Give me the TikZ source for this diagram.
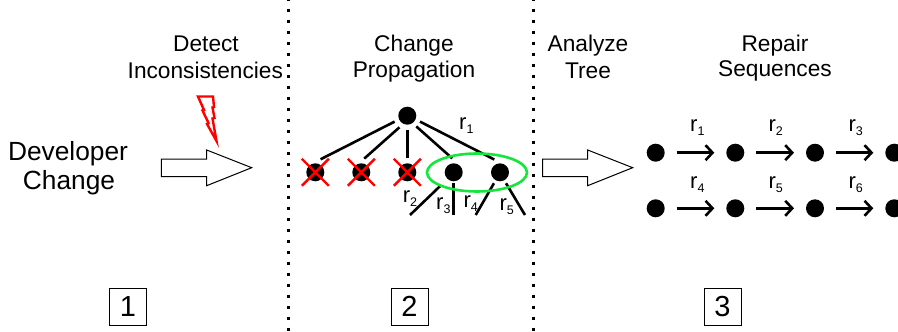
\documentclass[tikz,border=0pt]{standalone}
\usepackage{fontspec}
\setmainfont{Liberation Sans}
\usetikzlibrary{arrows.meta,calc,shapes.geometric}
\definecolor{glow}{RGB}{20,230,60}
\newcommand\rlab[1]{r\raisebox{-4pt}{\fontsize{12.5}{13}\selectfont #1}}
\tikzset{
  dot/.style={circle,fill=black,inner sep=0pt,minimum size=18pt,outer sep=5pt},
  edge/.style={line width=2.6pt,black},
  seq/.style={line width=2.6pt,black,yshift=0.8pt,-{Straight Barb[length=7pt,width=15pt,line width=2.6pt]},shorten <=7pt,shorten >=7pt},
  xmark/.style={red,line width=2.4pt},
  sep/.style={line width=3pt,dash pattern=on 3pt off 8pt,black},
  fat/.style={draw=black,line width=1pt,fill=white,line join=miter},
  ttl/.style={font=\fontsize{22.7}{24}\selectfont,anchor=base,inner sep=0pt},
  big/.style={font=\fontsize{26.3}{30}\selectfont,anchor=base,inner sep=0pt},
  rl/.style={font=\fontsize{22}{24}\selectfont,anchor=base west,inner sep=0pt},
  numbox/.style={draw=black,line width=1pt,minimum size=37pt,inner sep=0pt,font=\fontsize{29}{30}\selectfont}
}
\begin{document}
\begin{tikzpicture}[x=1pt,y=-1pt]
\useasboundingbox (0,0) rectangle (898,332);
\clip (0,0) rectangle (898,332);
% separators
\coordinate (s1a) at (288,-2.5); \coordinate (s1b) at (288,335);
\coordinate (s2a) at (533,-2.5); \coordinate (s2b) at (533,335);
\draw[sep] (s1a) -- (s1b);
\draw[sep] (s2a) -- (s2b);
% texts
\node[big] (dev) at (68,160) {Developer};
\node[big] (chg) at (69,189.3) {Change};
\node[ttl] (t1a) at (206,52) {Detect};
\node[ttl] (t1b) at (205.3,78) {Inconsistencies};
\node[ttl] (t2a) at (414,51) {Change};
\node[ttl] (t2b) at (414,77.5) {Propagation};
\node[ttl] (t3a) at (588,51) {Analyze};
\node[ttl] (t3b) at (588,78) {Tree};
\node[ttl] (t4a) at (775,51) {Repair};
\node[ttl] (t4b) at (775,76) {Sequences};
% block arrows
\draw[fat] (161.3,159) -- (206.7,159) -- (206.7,150) -- (251.7,167.7) -- (206.7,185.7) -- (206.7,176.7) -- (161.3,176.7) -- cycle;
\draw[fat] (542.7,159) -- (587.7,159) -- (587.7,150) -- (632.7,167.7) -- (587.7,185.7) -- (587.7,176.7) -- (542.7,176.7) -- cycle;
% lightning
\draw[red,line width=2.4pt,line join=miter,fill=white] (198,96.5) -- (213,96.5) -- (214,107) -- (212.5,107.5) -- (214.5,118) -- (212.5,118.5) -- (216.5,141) -- (207,124) -- (208.5,123) -- (202.5,110.5) -- (204,110) -- cycle;
% tree
\node[dot] (root) at (407.3,115.7) {};
\node[dot] (c1) at (315.3,172.3) {};
\node[dot] (c2) at (361.3,172.3) {};
\node[dot] (c3) at (407.3,172.3) {};
\node[dot] (c4) at (453.7,172.3) {};
\node[dot] (c5) at (500,172.3) {};
\coordinate (l1) at (410,215);
\coordinate (l2) at (453.7,215);
\coordinate (l3) at (475.7,215);
\coordinate (l4) at (525,215);
\draw[edge] (root.205) -- (c1.68);
\draw[edge] (root.236) -- (c2.78);
\draw[edge] (root.270) -- (c3.90);
\draw[edge] (root.310) -- (c4.96);
\draw[edge] (root.335) -- (c5.114);
\draw[edge,shorten <=5pt] (c4.226) -- (l1);
\draw[edge,shorten <=-3pt] (c4.270) -- (l2);
\draw[edge,shorten <=-1.5pt] (c5.241) -- (l3);
\draw[edge,shorten <=-1.5pt] (c5.299) -- (l4);
\foreach \n in {c1,c2,c3}{
  \draw[xmark] ($(\n)+(-13.5,-13.5)$) -- ($(\n)+(13.5,13.5)$);
  \draw[xmark] ($(\n)+(-13.5,13.5)$) -- ($(\n)+(13.5,-13.5)$);
}
\node[draw=glow,line width=2.6pt,ellipse,minimum width=100pt,minimum height=38pt,inner sep=0pt] (grp) at (477,172.5) {};
\node[rl] (a1) at (459,129.3) {\rlab{1}};
\node[rl] (a2) at (402.7,202.3) {\rlab{2}};
\node[rl] (a3) at (436,209) {\rlab{3}};
\node[rl] (a4) at (463.3,207.3) {\rlab{4}};
\node[rl] (a5) at (499.3,210) {\rlab{5}};
% sequences
\foreach \y/\p in {152.7/a,208.3/b}{
  \node[dot] (\p1) at (655.7,\y) {};
  \node[dot] (\p2) at (735.3,\y) {};
  \node[dot] (\p3) at (815,\y) {};
  \node[dot] (\p4) at (894.3,\y) {};
  \draw[seq] (\p1) -- (\p2);
  \draw[seq] (\p2) -- (\p3);
  \draw[seq] (\p3) -- (\p4);
}
\node[rl] (b1) at (690,131.7) {\rlab{1}};
\node[rl] (b2) at (768.3,131.7) {\rlab{2}};
\node[rl] (b3) at (848.3,131.7) {\rlab{3}};
\node[rl] (b4) at (690,188.3) {\rlab{4}};
\node[rl] (b5) at (768.3,188.3) {\rlab{5}};
\node[rl] (b6) at (848.3,188.3) {\rlab{6}};
% numbers
\node[numbox] (n1) at (128,306.5) {1};
\node[numbox] (n2) at (409.5,306.5) {2};
\node[numbox] (n3) at (722.5,306.5) {3};
\end{tikzpicture}
\end{document}
